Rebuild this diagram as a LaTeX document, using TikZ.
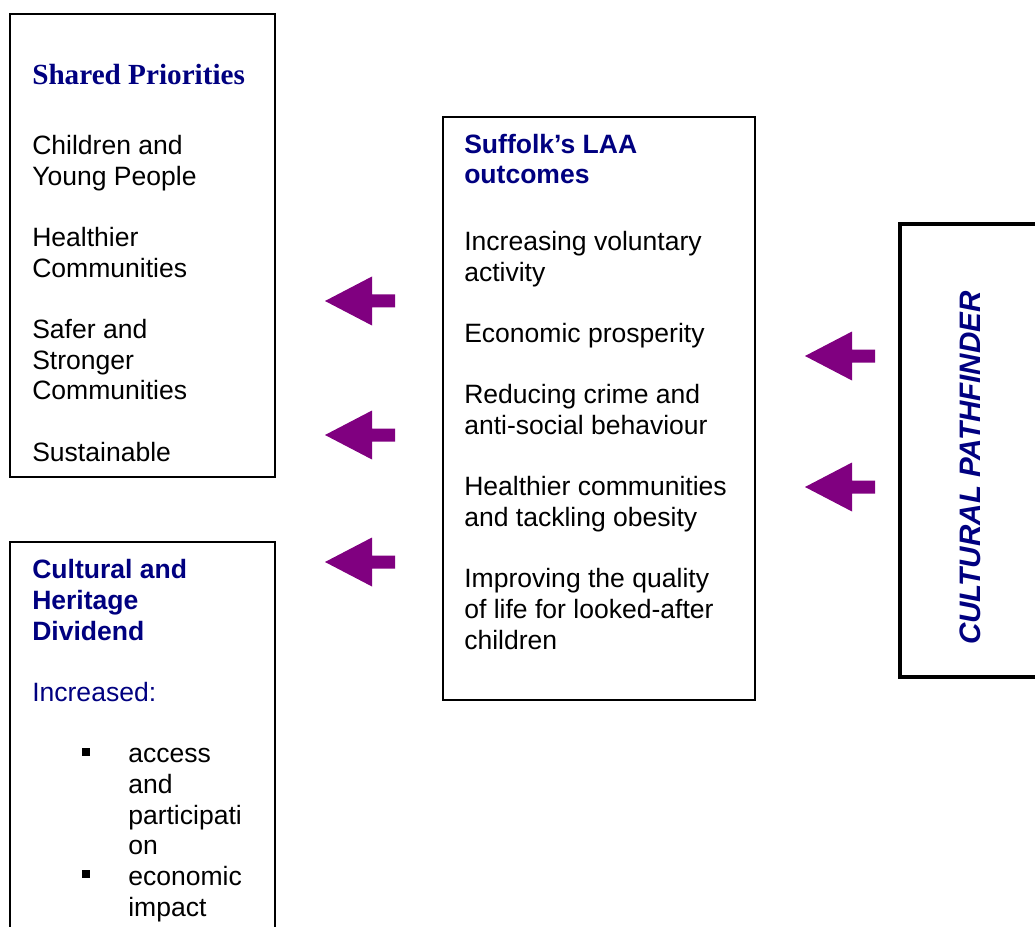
\documentclass[tikz,border=0pt]{standalone}
\usepackage{fontspec}
\setmainfont{Liberation Sans}
\newfontfamily\timesfont{Liberation Serif}
\usetikzlibrary{positioning}
\definecolor{laanavy}{rgb}{0,0,0.5}
\definecolor{laapurple}{rgb}{0.5,0,0.5}
\newcommand{\sqbullet}{\llap{\rule[5.25pt]{6pt}{6pt}\hspace{28.5pt}}}
\tikzset{
  box/.style={draw=black, line width=1pt},
  pathbox/.style={draw=black, line width=3.5pt},
  heading/.style={anchor=base west, align=left, inner sep=0pt, text=laanavy, font=\fontsize{19.9}{23}\selectfont\bfseries},
  body/.style={anchor=base west, align=left, inner sep=0pt, font=\fontsize{19.9}{23}\selectfont},
  leftarrow/.pic={\fill[laapurple] (0,0) -- (47,-24.5) -- (47,-6.5) -- (70,-6.5) -- (70,6.5) -- (47,6.5) -- (47,24.5) -- cycle;}
}

\begin{document}
\begin{tikzpicture}[x=0.75pt, y=-0.75pt]

  \clip (0,0) rectangle (1035,927);
  \fill[white] (0,0) rectangle (1035,927);

  % Shared priorities box (text nodes placed by their last baseline)
  \draw[box] (10,14) rectangle (275,477);
  \node (sharedhead) [heading, font=\timesfont\fontsize{21.9}{25}\selectfont\bfseries] at (32,85) {Shared Priorities};
  \node (sharedbody) [body] at (32,461) {Children and\\Young People\\[23pt]Healthier\\Communities\\[23pt]Safer and\\Stronger\\Communities\\[23pt]Sustainable};

  % Dividend box
  \draw[box] (10,542) rectangle (275,945);
  \node (divhead) [heading] at (32,640) {Cultural and\\Heritage\\Dividend};
  \node (increased) [body, text=laanavy] at (32,701) {Increased:};
  \node (divlist) [body] at (128,916) {\sqbullet access\\and\\participati\\on\\\sqbullet economic\\impact};

  % LAA outcomes box
  \draw[box] (443,117) rectangle (755,700);
  \node (laahead) [heading] at (464,184) {Suffolk’s LAA\\outcomes};
  \node (laabody) [body] at (464,649) {Increasing voluntary\\activity\\[23pt]Economic prosperity\\[23pt]Reducing crime and\\anti-social behaviour\\[23pt]Healthier communities\\and tackling obesity\\[23pt]Improving the quality\\of life for looked-after\\children};

  % Pathfinder box
  \draw[pathbox] (900,224) rectangle (1050,677);
  \node (pathfinder) [rotate=90, inner sep=0pt, text=laanavy, font=\fontsize{22.2}{26}\selectfont\bfseries\itshape] at (970,468) {CULTURAL PATHFINDER};

  % Arrows
  \pic (arrowa) at (325,301) {leftarrow};
  \pic (arrowb) at (325,435) {leftarrow};
  \pic (arrowc) at (325,562) {leftarrow};
  \pic (arrowd) at (805,356) {leftarrow};
  \pic (arrowe) at (805,487) {leftarrow};

\end{tikzpicture}
\end{document}
